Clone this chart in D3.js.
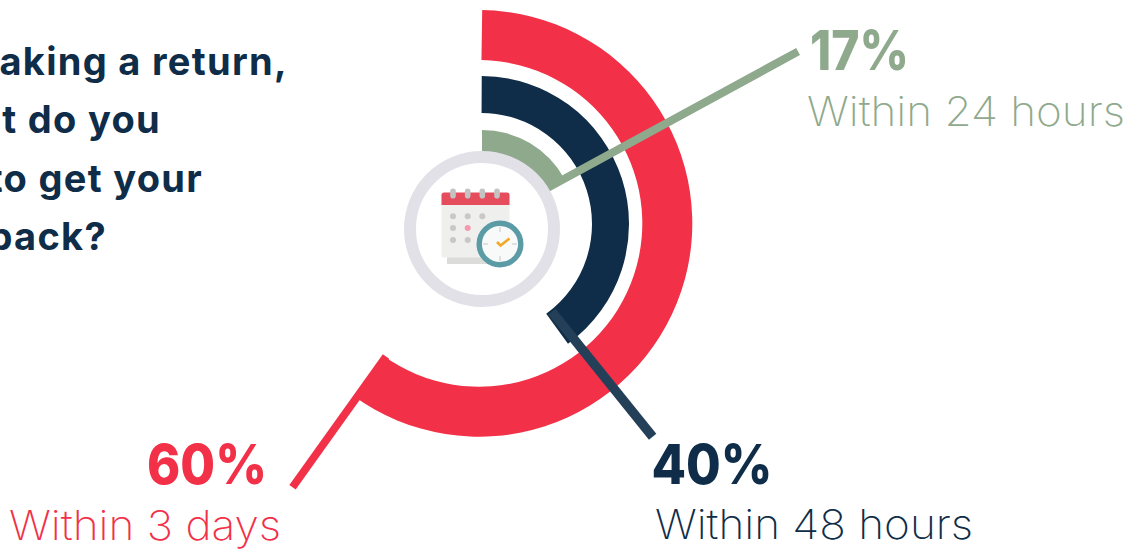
<!DOCTYPE html>
<html>
<head>
<meta charset="utf-8">
<script src="https://cdnjs.cloudflare.com/ajax/libs/d3/7.8.5/d3.min.js"></script>
<style>
  html, body { margin: 0; padding: 0; background: #fff; overflow: hidden; }
  text { font-family: Inter, "Open Sans", sans-serif; }
</style>
</head>
<body>
<svg id="chart" width="1126" height="551"></svg>
<script>
// Survey answers: how soon shoppers expect their refund
const timeframes = ["Within 3 days", "Within 48 hours", "Within 24 hours"];
const shares = [60, 40, 17];
const ringColors = ["#f23047", "#0f2d48", "#8fa98d"];
const leaderColors = ["#f23047", "#243f58", "#8fa98d"];
const innerRadii = [163.3, 111, 60];
const outerRadii = [213.3, 148, 94];
const ringCx = [479, 481, 482];
const ringCy = [223.4, 224, 224];
const ringStart = [0.015, 0.005, 0];
const questionLines = ["When making a return,", "what do you", "expect to get your", "money back?"];

const svg = d3.select("#chart");
const root = svg.append("g");

const angle = d3.scaleLinear().domain([0, 100]).range([0, 2 * Math.PI]);
const arc = d3.arc();
const polar = (i, a, r) => [ringCx[i] + r * Math.sin(a), ringCy[i] - r * Math.cos(a)];

// Question, anchored on the right end of each line
const questionRight = [288, 161, 203, 107];
const questionBase = [74.5, 133, 192, 250];
root.append("g").selectAll("text").data(questionLines).join("text")
  .attr("x", (d, i) => questionRight[i])
  .attr("y", (d, i) => questionBase[i])
  .attr("text-anchor", "end")
  .attr("font-size", 38)
  .attr("font-weight", 700)
  .attr("letter-spacing", 1.3)
  .attr("fill", "#0f2d48")
  .text(d => d);

// Concentric progress arcs
root.append("g").selectAll("path").data(shares).join("path")
  .attr("transform", (d, i) => `translate(${ringCx[i]},${ringCy[i]})`)
  .attr("fill", (d, i) => ringColors[i])
  .attr("d", (d, i) => arc({
    innerRadius: innerRadii[i],
    outerRadius: outerRadii[i],
    startAngle: ringStart[i],
    endAngle: angle(d)
  }));

// Leader lines leave each arc's end and run out to its label
const leaderStart = [163.3, 112, 72];
const leaderNudge = [[3, 1], [5, -3], [0, 0]];
const leaderReach = [[-93.5, 130.7], [100.8, 125.1], [253, -137.8]];
const leaderWidth = [7.8, 9.5, 8];
root.append("g").selectAll("line").data(shares).join("line")
  .each(function (d, i) {
    const [px, py] = polar(i, angle(d), leaderStart[i]);
    const x = px + leaderNudge[i][0], y = py + leaderNudge[i][1];
    d3.select(this)
      .attr("x1", x).attr("y1", y)
      .attr("x2", x + leaderReach[i][0]).attr("y2", y + leaderReach[i][1]);
  })
  .attr("stroke", (d, i) => leaderColors[i])
  .attr("stroke-width", (d, i) => leaderWidth[i]);

// Badge in the middle: ring, calendar and clock
const badge = root.append("g");
badge.append("circle").attr("cx", 482).attr("cy", 229).attr("r", 72)
  .attr("fill", "#fff").attr("stroke", "#e2e1e8").attr("stroke-width", 12);
badge.append("rect").attr("x", 447).attr("y", 250).attr("width", 50).attr("height", 14).attr("fill", "#dcdcda");
badge.append("rect").attr("x", 441.5).attr("y", 193).attr("width", 68).attr("height", 64.5).attr("rx", 1.5).attr("fill", "#efefee");
badge.append("path").attr("d", "M441.5 205V195a2.5 2.5 0 0 1 2.5-2.5h63a2.5 2.5 0 0 1 2.5 2.5V205Z").attr("fill", "#e54c5c");
[453, 467.7, 482.3, 497].forEach(x => {
  badge.append("rect").attr("x", x - 2.8).attr("y", 188.5).attr("width", 5.6).attr("height", 10)
    .attr("rx", 2.8).attr("fill", "#c4c3c1");
});
[[453, 216.3], [467.7, 216.3], [482.3, 216.3], [453, 228], [453, 240], [467.7, 240]].forEach(([x, y]) => {
  badge.append("circle").attr("cx", x).attr("cy", y).attr("r", 3).attr("fill", "#c9c8c6");
});
badge.append("circle").attr("cx", 467.7).attr("cy", 228).attr("r", 3).attr("fill", "#f59aae");
badge.append("circle").attr("cx", 500).attr("cy", 244).attr("r", 20.8)
  .attr("fill", "#f8f9f9").attr("stroke", "#5a9ba6").attr("stroke-width", 5.4);
[[500, 227, 500, 232], [500, 256, 500, 261], [483, 244, 488, 244], [512, 244, 517, 244]].forEach(([a, b, c, e]) => {
  badge.append("line").attr("x1", a).attr("y1", b).attr("x2", c).attr("y2", e)
    .attr("stroke", "#dfe0df").attr("stroke-width", 2);
});
badge.append("path").attr("d", "M497 242L500.5 245.5L509.5 238.5").attr("fill", "none")
  .attr("stroke", "#f2a825").attr("stroke-width", 2.6);

// Percentages and their timeframes
const percentX = [147, 651.5, 810];
const percentBase = [484, 484, 70];
const percentWidth = [120, 121, 99];
const nameX = [9, 655, 807];
const nameBase = [540, 539, 126];
const nameWidth = [272, 318, 318];
const labels = root.append("g");
labels.selectAll("text.pct").data(shares).join("text")
  .attr("class", "pct")
  .attr("x", (d, i) => percentX[i])
  .attr("y", (d, i) => percentBase[i])
  .attr("font-size", 55)
  .attr("font-weight", 800)
  .attr("fill", (d, i) => ringColors[i])
  .attr("textLength", (d, i) => percentWidth[i])
  .attr("lengthAdjust", "spacingAndGlyphs")
  .text(d => d + "%");
labels.selectAll("text.name").data(timeframes).join("text")
  .attr("class", "name")
  .attr("x", (d, i) => nameX[i])
  .attr("y", (d, i) => nameBase[i])
  .attr("font-size", 41)
  .attr("font-weight", 200)
  .attr("fill", (d, i) => ringColors[i])
  .attr("textLength", (d, i) => nameWidth[i])
  .attr("lengthAdjust", "spacingAndGlyphs")
  .text(d => d);
</script>
</body>
</html>
